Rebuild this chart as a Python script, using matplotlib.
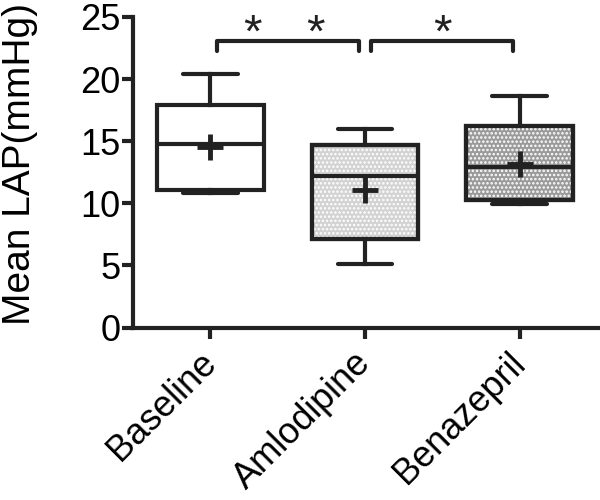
import matplotlib.pyplot as plt
from matplotlib.patches import PathPatch

plt.rcParams["font.family"] = ["Liberation Sans", "DejaVu Sans"]
plt.rcParams["hatch.linewidth"] = 1.2

groups = ["Baseline", "Amlodipine", "Benazepril"]
q1 = [11.05, 7.1, 10.25]
median = [14.8, 12.2, 12.95]
q3 = [17.95, 14.7, 16.25]
whis_lo = [10.8, 5.15, 9.95]
whis_hi = [20.45, 15.95, 18.6]
means = [14.5, 11.1, 13.2]
fills = ["white", "#d2d2d2", "#9a9a9a"]

# significance brackets (x from, x to, height) and star positions
brackets = [(0.04, 0.96, 23.05), (1.04, 1.96, 23.05)]
stars = [(0.27, 23.6), (0.68, 23.6), (1.5, 23.6)]

stats = []
for i, g in enumerate(groups):
    stats.append({
        "label": g,
        "q1": q1[i],
        "med": median[i],
        "q3": q3[i],
        "whislo": whis_lo[i],
        "whishi": whis_hi[i],
        "mean": means[i],
        "fliers": [],
    })

fig, ax = plt.subplots(figsize=(6, 5), dpi=100)
fig.subplots_adjust(left=0.222, right=1.0, top=0.966, bottom=0.345)

lw = 3.0
col = "#222222"
bp = ax.bxp(
    stats,
    positions=range(len(groups)),
    widths=0.69,
    patch_artist=True,
    showmeans=True,
    boxprops=dict(linewidth=lw, edgecolor=col, zorder=2),
    medianprops=dict(linewidth=lw, color=col, zorder=4),
    whiskerprops=dict(linewidth=lw, color=col, zorder=4),
    capprops=dict(linewidth=lw, color=col, solid_capstyle="round", zorder=4),
    meanprops=dict(marker="+", markersize=19, markeredgewidth=lw + 0.5,
                   markeredgecolor=col, zorder=5),
    capwidths=0.355,
)

for patch, c in zip(bp["boxes"], fills):
    patch.set_facecolor(c)
    if c != "white":
        dots = PathPatch(patch.get_path(), facecolor="none", edgecolor="white",
                         hatch="....", linewidth=0, zorder=2.5)
        ax.add_patch(dots)
        # outline again on top of the dots
        ax.add_patch(PathPatch(patch.get_path(), facecolor="none", edgecolor=col,
                               linewidth=lw, zorder=3))

for x0, x1, h in brackets:
    ax.plot([x0, x0, x1, x1], [h - 0.75, h, h, h - 0.75], color=col,
            linewidth=lw, solid_capstyle="round", solid_joinstyle="round",
            clip_on=False)
for x, h in stars:
    ax.text(x, h, "*", ha="center", va="center", fontsize=34, color=col)

ax.set_xlim(-0.5, 2.52)
ax.set_ylim(0, 25)
ax.set_yticks([0, 5, 10, 15, 20, 25])
ax.set_xticks(range(len(groups)))
ax.set_xticklabels(groups, rotation=45, ha="right", va="center",
                   rotation_mode="anchor")
ax.set_ylabel("Mean LAP(mmHg)", fontsize=28)
ax.yaxis.set_label_coords(-0.205, 0.525)

ax.spines["top"].set_visible(False)
ax.spines["right"].set_visible(False)
for s in ["left", "bottom"]:
    ax.spines[s].set_linewidth(lw)
    ax.spines[s].set_color(col)
ax.tick_params(axis="both", width=lw, length=8, color=col, labelsize=26,
               pad=1)
ax.tick_params(axis="x", pad=14)

fig.savefig("out.png", dpi=100)
